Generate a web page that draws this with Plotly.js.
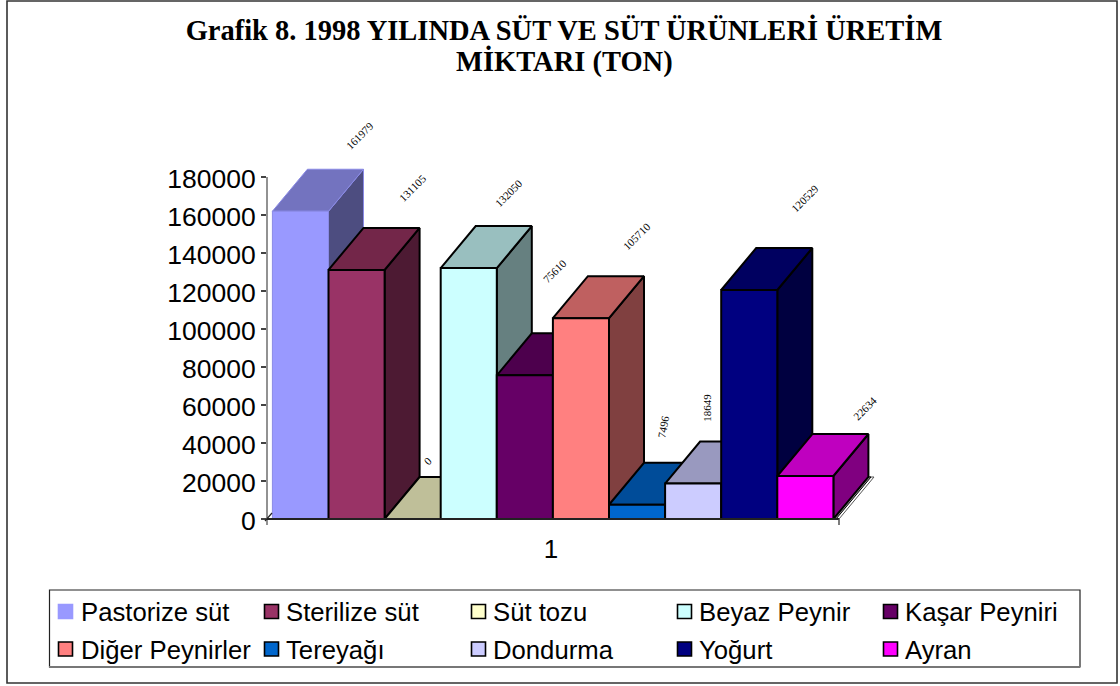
<!DOCTYPE html>
<html>
<head>
<meta charset="utf-8">
<script src="https://cdn.plot.ly/plotly-3.0.1.min.js"></script>
<style>html,body{margin:0;padding:0;background:#fff}#chart{width:1120px;height:686px}</style>
</head>
<body>
<div id="chart"></div>
<script>
// ---- data ----
const seriesNames = ["Pastorize süt","Sterilize süt","Süt tozu","Beyaz Peynir","Kaşar Peyniri","Diğer Peynirler","Tereyağı","Dondurma","Yoğurt","Ayran"];
const seriesValues = [161979,131105,0,132050,75610,105710,7496,18649,120529,22634];
const categoryLabels = ["1"];
const yTicks = [0,20000,40000,60000,80000,100000,120000,140000,160000,180000];
const titleLine1 = "Grafik 8. 1998 YILINDA SÜT VE SÜT ÜRÜNLERİ ÜRETİM";
const titleLine2 = "MİKTARI (TON)";

// ---- styles ----
const frontColors = ["#9999FF","#993366","#FFFFCC","#CCFFFF","#660066","#FF8080","#0066CC","#CCCCFF","#000080","#FF00FF"];
const topColors   = ["#7373BF","#732649","#BFBF99","#99BFBF","#4D004D","#BF6060","#004C99","#9999BF","#000060","#BF00BF"];
const sideColors  = ["#4D4D80","#4D1A33","#808066","#668080","#330033","#804040","#003366","#666680","#000040","#800080"];
const edgeColors  = ["#8A8AE6","#000","#000","#000","#000","#000","#000","#000","#000","#000"];
const edgeWidths  = [1,2,2,2,2,2,2,2,2,2];
const labelOffsets = [[60,-76],[56,-82],[15,-58],[40,-75],[30,-104],[56,-82],[26,-78],[13,-76],[56,-92],[60,-68]];
const labelAngles  = [-45,-45,-45,-45,-45,-45,-80,-90,-45,-45];
const legendCols = [[58,79],[264,284],[471,491],[677,697],[883,903]];
const legendRows = [611.5,649];
const titleFont={family:'"Liberation Serif",serif',size:28.5,color:'#000',weight:'bold'};
const sansFamily='"Liberation Sans",Arial,sans-serif';

// ---- geometry of the plot in the page ----
const W=1120,H=686;
const px0=272.4, unit=56.1, axisL=267, axisR=839, yBase=519, yTop=177, plotR=885, plotT=160;
const perPx=180000/(yBase-yTop);
const depthX=35/unit, depthY=42*perPx;
const fx=p=>p/W, fy=p=>1-p/H;

const traces=[];
function poly(xs,ys,fill,line,width){
  traces.push({type:'scatter',mode:'lines',x:xs.concat(xs[0]),y:ys.concat(ys[0]),fill:'toself',
    fillcolor:fill,line:{color:line,width:width},cliponaxis:false,showlegend:false,hoverinfo:'skip'});
}
// floor slab at the right end
const n=seriesValues.length, fr=(axisR-px0)/unit, s1=(axisR-3-px0)/unit;
poly([n,fr,fr+depthX,n+depthX],[0,0,depthY,depthY],'#FFFFFF','#555555',1);
poly([n,s1,s1+depthX,n+depthX],[0,0,depthY,depthY],'#A0A0A0','#000000',1);

seriesValues.forEach((v,i)=>{
  const l=i,r=i+1,e=edgeColors[i],w=edgeWidths[i];
  poly([r,r+depthX,r+depthX,r],[0,depthY,v+depthY,v],sideColors[i],e,w);
  poly([l,r,r+depthX,l+depthX],[v,v,v+depthY,v+depthY],topColors[i],e,w);
  if(v>0) poly([l,r,r,l],[0,0,v,v],frontColors[i],e,w);
});

const annotations=seriesValues.map((v,i)=>({
  xref:'x',yref:'y',x:i+0.5,y:v,text:String(v),showarrow:false,
  xshift:labelOffsets[i][0],yshift:-labelOffsets[i][1],textangle:labelAngles[i],
  font:{family:'"Liberation Serif",serif',size:11,color:'#000'}
}));
annotations.push({xref:'paper',yref:'paper',x:fx(564),y:fy(62),xanchor:'center',yanchor:'middle',text:titleLine2,showarrow:false,font:titleFont});

const pline=(x0,y0,x1,y1,color,width)=>({type:'line',xref:'paper',yref:'paper',x0:fx(x0),x1:fx(x1),y0:fy(y0),y1:fy(y1),line:{color:color,width:width}});
const shapes=[
  {type:'rect',xref:'paper',yref:'paper',x0:fx(7),x1:fx(1117),y0:fy(683),y1:fy(1),line:{color:'#333',width:1.6},fillcolor:'rgba(0,0,0,0)',layer:'below'},
  {type:'rect',xref:'paper',yref:'paper',x0:fx(49.5),x1:fx(1080),y0:fy(667),y1:fy(590),line:{color:'#222',width:1.2},fillcolor:'#fff',layer:'below'},
  pline(49,667,1080,667,'#777',2),
  // axis lines stop at the top tick and at the end of the floor
  pline(axisL,yTop,axisL,yBase+6,'#777',1.6),
  pline(axisL,yBase,axisR,yBase,'#222',2),
  pline(axisR,yBase,axisR,yBase+6,'#444',1.4),
  pline(axisL-2,yBase+2,axisL+5,yBase-6,'#222',1.2)
];
seriesNames.forEach((name,i)=>{
  const c=legendCols[i%5], y=legendRows[Math.floor(i/5)];
  shapes.push({type:'rect',xref:'paper',yref:'paper',x0:fx(c[0]+0.5),x1:fx(c[0]+14.5),y0:fy(y+7),y1:fy(y-7),
    fillcolor:frontColors[i],line:{color:i===0?frontColors[0]:'#000',width:1.6}});
  annotations.push({xref:'paper',yref:'paper',x:fx(c[1]),y:fy(y+0.5),xanchor:'left',yanchor:'middle',text:name,showarrow:false,
    font:{family:sansFamily,size:25.7,color:'#000'}});
});

const layout={
  width:W,height:H,margin:{l:0,r:0,t:0,b:0},paper_bgcolor:'#fff',plot_bgcolor:'rgba(0,0,0,0)',showlegend:false,
  title:{text:titleLine1,x:fx(564),xanchor:'center',yref:'container',y:fy(30),yanchor:'middle',font:titleFont},
  xaxis:{domain:[fx(axisL),fx(plotR)],range:[(axisL-px0)/unit,(plotR-px0)/unit],tickmode:'array',tickvals:[(551-px0)/unit],
    ticktext:categoryLabels,ticks:'',showgrid:false,zeroline:false,showline:false,
    tickfont:{family:sansFamily,size:26,color:'#000'},ticklabelstandoff:12},
  yaxis:{domain:[fy(yBase),fy(plotT)],range:[0,(yBase-plotT)*perPx],tickmode:'array',tickvals:yTicks,ticktext:yTicks.map(String),
    ticks:'outside',ticklen:5,tickcolor:'#444',tickwidth:1.3,showgrid:false,zeroline:false,showline:false,ticklabelshift:2,
    tickfont:{family:sansFamily,size:26.5,color:'#000'}},
  annotations:annotations,shapes:shapes
};
Plotly.newPlot('chart',traces,layout,{displayModeBar:false,staticPlot:true});
</script>
</body>
</html>
